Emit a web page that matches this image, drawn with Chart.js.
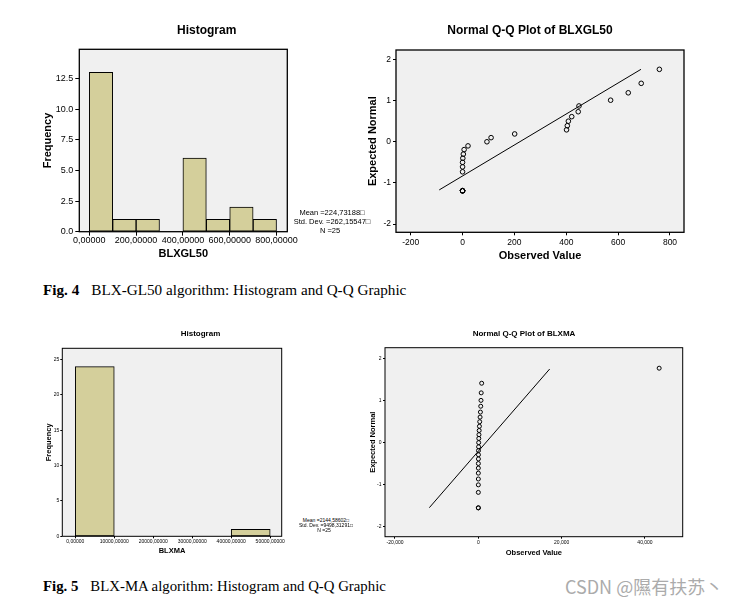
<!DOCTYPE html>
<html>
<head>
<meta charset="utf-8">
<script src="https://cdn.jsdelivr.net/npm/chart.js@4.4.0/dist/chart.umd.min.js"></script>
<style>
  body { margin: 0; background: #fff; }
  #page { position: relative; width: 746px; height: 605px; overflow: hidden; background: #fff;
          font-family: "Liberation Sans", Arial, sans-serif; color: #000; }
  canvas { position: absolute; }
  .c { position: absolute; transform: translate(-50%, -50%); white-space: nowrap; line-height: 1; }
  .l { position: absolute; transform: translate(0, -50%); white-space: nowrap; line-height: 1; }
  .ttl { font-weight: bold; }
  .cap { font-family: "Liberation Serif", "Times New Roman", serif; font-size: 15.2px; }
  .cap b { margin-right: 12px; }
  .wm { font-family: "Noto Sans CJK SC", sans-serif; font-size: 18px; color: #ababab; }
</style>
</head>
<body>
<div id="page">
  <canvas id="histGL50" width="290" height="260" style="left:20px;top:10px"></canvas>
  <canvas id="qqGL50" width="380" height="265" style="left:350px;top:10px"></canvas>
  <canvas id="histMA" width="280" height="250" style="left:20px;top:320px"></canvas>
  <canvas id="qqMA" width="380" height="250" style="left:350px;top:320px"></canvas>

  <div class="c ttl" style="left:206.7px;top:30px;font-size:12px">Histogram</div>
  <div class="c ttl" style="left:530px;top:30px;font-size:12px">Normal Q-Q Plot of BLXGL50</div>
  <div class="c ttl" style="left:200.5px;top:334px;font-size:8px">Histogram</div>
  <div class="c ttl" style="left:524px;top:333.5px;font-size:8px">Normal Q-Q Plot of BLXMA</div>

  <div class="c" style="left:332px;top:212.5px;font-size:7.5px">Mean =224,73188&#9633;</div>
  <div class="c" style="left:332px;top:222px;font-size:7.5px">Std. Dev. =262,15547&#9633;</div>
  <div class="c" style="left:330px;top:230.5px;font-size:7.5px">N =25</div>

  <div class="c" style="left:326px;top:519.5px;font-size:5px">Mean =2144,58602&#9633;</div>
  <div class="c" style="left:326px;top:524.5px;font-size:5px">Std. Dev. =9498,31291&#9633;</div>
  <div class="c" style="left:324px;top:529.5px;font-size:5px">N =25</div>

  <div class="l cap" style="left:43px;top:290px"><b>Fig. 4</b>BLX-GL50 algorithm: Histogram and Q-Q Graphic</div>
  <div class="l cap" style="left:43px;top:586px;font-size:14.8px"><b>Fig. 5</b>BLX-MA algorithm: Histogram and Q-Q Graphic</div>
  <div class="l wm" style="left:565px;top:586px">CSDN @隰有扶苏丶</div>
</div>

<script>
// ---- Fig. 4 histogram (BLXGL50), bins of width 100
const gl50BinCenters = [50, 150, 250, 350, 450, 550, 650, 750];
const gl50Freq = [13, 1, 1, 0, 6, 1, 2, 1];
const gl50HistXTicks = [0, 200, 400, 600, 800];
const gl50HistXLabels = ['0,00000', '200,00000', '400,00000', '600,00000', '800,00000'];
const gl50HistYTicks = [0, 2.5, 5, 7.5, 10, 12.5];
const gl50HistYLabels = ['0.0', '2.5', '5.0', '7.5', '10.0', '12.5'];

// ---- Fig. 4 Q-Q plot (BLXGL50)
const gl50Observed = [0, 0, 0, 0, 0, 0, 0, 0, 1, 3, 6, 21, 94, 110, 201, 401, 404, 408, 421, 446, 449, 571, 639, 689, 759];
const gl50Expected = [-1.19, -1.19, -1.19, -1.19, -1.19, -0.73, -0.61, -0.50, -0.40, -0.30, -0.19, -0.10, 0, 0.10, 0.19, 0.29, 0.39, 0.50, 0.61, 0.73, 0.87, 1.01, 1.19, 1.42, 1.76];
const gl50LineX = [-90, 688];
const gl50LineY = [-1.17, 1.76];
const gl50QQXTicks = [-200, 0, 200, 400, 600, 800];
const gl50QQXLabels = ['-200', '0', '200', '400', '600', '800'];
const gl50QQYTicks = [-2, -1, 0, 1, 2];
const gl50QQYLabels = ['-2', '-1', '0', '1', '2'];

// ---- Fig. 5 histogram (BLXMA), bins of width 10000
const maBinCenters = [5000, 15000, 25000, 35000, 45000];
const maFreq = [24, 0, 0, 0, 1];
const maHistXTicks = [0, 10000, 20000, 30000, 40000, 50000];
const maHistXLabels = ['0,00000', '10000,00000', '20000,00000', '30000,00000', '40000,00000', '50000,00000'];
const maHistYTicks = [0, 5, 10, 15, 20, 25];
const maHistYLabels = ['0', '5', '10', '15', '20', '25'];

// ---- Fig. 5 Q-Q plot (BLXMA)
const maObserved = [0, 0, 0, 0, 0, 0, 0, 10, 20, 30, 40, 60, 80, 110, 150, 200, 260, 330, 420, 500, 580, 640, 690, 800, 43400];
const maExpected = [-1.56, -1.56, -1.19, -1.01, -0.87, -0.73, -0.61, -0.50, -0.39, -0.29, -0.19, -0.10, 0, 0.10, 0.19, 0.29, 0.39, 0.50, 0.61, 0.73, 0.87, 1.01, 1.19, 1.42, 1.78];
const maLineX = [-11760, 17120];
const maLineY = [-1.556, 1.76];
const maQQXTicks = [-20000, 0, 20000, 40000];
const maQQXLabels = ['-20,000', '0', '20,000', '40,000'];
const maQQYTicks = [-2, -1, 0, 1, 2];
const maQQYLabels = ['-2', '-1', '0', '1', '2'];

const FONT = '"Liberation Sans", Arial, sans-serif';
const BAR_FILL = '#d4cf9b';
const PLOT_BG = '#f0f0f0';

// grey plot background + black frame around the chart area
const plotFrame = {
  id: 'plotFrame',
  beforeDraw(chart) {
    const a = chart.chartArea, ctx = chart.ctx;
    ctx.save();
    ctx.fillStyle = PLOT_BG;
    ctx.fillRect(a.left, a.top, a.right - a.left, a.bottom - a.top);
    ctx.restore();
  },
  afterDraw(chart, args, opts) {
    const a = chart.chartArea, ctx = chart.ctx;
    ctx.save();
    ctx.strokeStyle = '#000';
    ctx.lineWidth = opts.lineWidth || 1;
    ctx.strokeRect(a.left, a.top, a.right - a.left, a.bottom - a.top);
    ctx.restore();
  }
};

function axis(o) {
  return {
    type: 'linear', min: o.min, max: o.max, offset: false,
    afterBuildTicks: ax => { ax.ticks = o.ticks.map(v => ({value: v})); },
    afterFit: ax => {
      if (o.width != null) ax.width = o.width;
      if (o.height != null) ax.height = o.height;
    },
    grid: {display: true, drawOnChartArea: false, drawTicks: true, tickLength: o.tickLen,
           color: '#000', lineWidth: 1, offset: false},
    border: {display: false},
    ticks: {color: '#000', font: {family: FONT, size: o.fs, lineHeight: 1}, padding: o.pad,
            autoSkip: false, maxRotation: 0, minRotation: 0, callback: (v, i) => o.labels[i]},
    title: {display: true, text: o.title, color: '#000',
            font: {family: FONT, size: o.tfs, weight: 'bold', lineHeight: 1.2}, padding: o.tpad}
  };
}

function baseOptions(padding, frameWidth, x, y) {
  return {
    responsive: false, animation: false, devicePixelRatio: 1,
    layout: {padding},
    plugins: {legend: {display: false}, tooltip: {enabled: false}, title: {display: false},
              plotFrame: {lineWidth: frameWidth}},
    scales: {x: axis(x), y: axis(y)}
  };
}

function histogram(id, centers, freq, padding, frameWidth, x, y) {
  return new Chart(document.getElementById(id), {
    type: 'bar',
    data: {datasets: [{
      data: centers.map((c, i) => ({x: c, y: freq[i]})),
      backgroundColor: BAR_FILL, borderColor: '#000', borderWidth: 1, borderSkipped: false,
      barPercentage: 1, categoryPercentage: 1
    }]},
    options: baseOptions(padding, frameWidth, x, y),
    plugins: [plotFrame]
  });
}

function qqPlot(id, obs, exp, lineX, lineY, radius, padding, frameWidth, x, y) {
  return new Chart(document.getElementById(id), {
    type: 'scatter',
    data: {datasets: [
      {type: 'line', data: lineX.map((v, i) => ({x: v, y: lineY[i]})), borderColor: '#000',
       borderWidth: 1, pointRadius: 0, fill: false, showLine: true},
      {data: obs.map((v, i) => ({x: v, y: exp[i]})), pointStyle: 'circle', pointRadius: radius,
       borderColor: '#000', pointBorderWidth: 1, backgroundColor: 'rgba(0,0,0,0)'}
    ]},
    options: baseOptions(padding, frameWidth, x, y),
    plugins: [plotFrame]
  });
}

histogram('histGL50', gl50BinCenters, gl50Freq,
  {left: 10, right: 22.7, top: 39.3, bottom: 8.3}, 1.3,
  {min: -42.7, max: 846, ticks: gl50HistXTicks, labels: gl50HistXLabels, height: 30, tickLen: 4, pad: 0, fs: 9,
   title: 'BLXGL50', tfs: 11, tpad: {top: 0, bottom: 1.1}},
  {min: 0, max: 14.87, ticks: gl50HistYTicks, labels: gl50HistYLabels, width: 49.3, tickLen: 4, pad: 2, fs: 9,
   title: 'Frequency', tfs: 11, tpad: {top: 11.4, bottom: 0}});

qqPlot('qqGL50', gl50Observed, gl50Expected, gl50LineX, gl50LineY, 2.3,
  {left: 5, right: 46, top: 40, bottom: 11.7}, 1.3,
  {min: -256.7, max: 854, ticks: gl50QQXTicks, labels: gl50QQXLabels, height: 31, tickLen: 3, pad: 3, fs: 8.5,
   title: 'Observed Value', tfs: 11, tpad: {top: 0, bottom: 1}},
  {min: -2.2, max: 2.23, ticks: gl50QQYTicks, labels: gl50QQYLabels, width: 41, tickLen: 3, pad: 2, fs: 8.5,
   title: 'Expected Normal', tfs: 11, tpad: {top: 11.7, bottom: 0}});

histogram('histMA', maBinCenters, maFreq,
  {left: 5, right: 18.3, top: 28.3, bottom: 7.7}, 1,
  {min: -3330, max: 52950, ticks: maHistXTicks, labels: maHistXLabels, height: 26, tickLen: 2, pad: 0.5, fs: 5,
   title: 'BLXMA', tfs: 7.5, tpad: {top: 0, bottom: 6.8}},
  {min: 0, max: 26.6, ticks: maHistYTicks, labels: maHistYLabels, width: 37.3, tickLen: 2, pad: 1, fs: 5,
   title: 'Frequency', tfs: 7.5, tpad: {top: 19, bottom: 0}});

qqPlot('qqMA', maObserved, maExpected, maLineX, maLineY, 2,
  {left: 5, right: 47.3, top: 27.7, bottom: 11.3}, 1,
  {min: -22400, max: 49050, ticks: maQQXTicks, labels: maQQXLabels, height: 22, tickLen: 2, pad: 1.5, fs: 5,
   title: 'Observed Value', tfs: 7.5, tpad: {top: 0, bottom: 1.2}},
  {min: -2.25, max: 2.27, ticks: maQQYTicks, labels: maQQYLabels, width: 30, tickLen: 2, pad: 1.5, fs: 5,
   title: 'Expected Normal', tfs: 7.5, tpad: {top: 13.8, bottom: 0}});
</script>
</body>
</html>
